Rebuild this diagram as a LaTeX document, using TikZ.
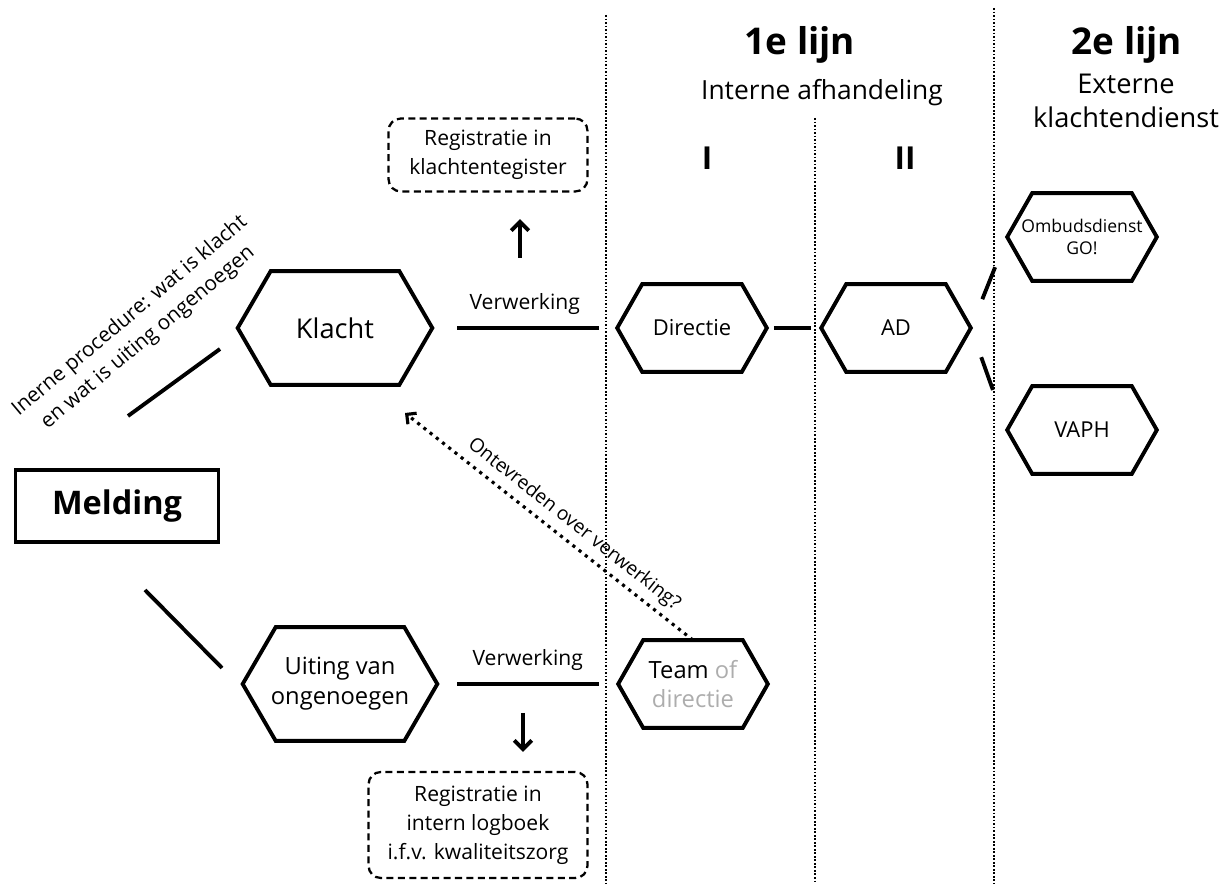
\documentclass[tikz,border=0pt]{standalone}
\usepackage{fontspec}
\setmainfont{Open Sans}
\usetikzlibrary{arrows.meta}
\definecolor{grijs}{gray}{0.68}
\tikzset{
  zesgroot/.style={minimum width=3.88cm, minimum height=2.26cm, inner sep=0pt, align=center},
  zesklein/.style={minimum width=2.98cm, minimum height=1.74cm, inner sep=0pt, align=center, font=\fontsize{12.5}{15}\selectfont},
  rand/.style={line width=2.2pt},
  kader/.style={draw, line width=1.3pt, dash pattern=on 4pt off 2.5pt, rounded corners=7pt, align=center, font=\fontsize{12}{16.5}\selectfont},
  scheiding/.style={line width=1pt, dash pattern=on 1pt off 1pt},
  pijl/.style={line width=2.2pt, -{Straight Barb[length=5pt,width=10pt]}},
  terugpijl/.style={line width=1.8pt, dash pattern=on 1.8pt off 2.7pt, -{Straight Barb[length=4pt,width=8pt]}},
}
\newcommand{\zeshoek}[2]{%
  \draw[rand] (#1.west) -- ([xshift=#2]#1.north west) -- ([xshift=-#2]#1.north east)
    -- (#1.east) -- ([xshift=-#2]#1.south east) -- ([xshift=#2]#1.south west) -- cycle;}
\begin{document}
\begin{tikzpicture}[x=0.02cm, y=-0.02cm]
\useasboundingbox (0,0) rectangle (1221,884);
% scheidingslijnen
\draw[scheiding] (606,15) -- (606,884);
\draw[scheiding] (815,118) -- (815,884);
\draw[scheiding] (994,8) -- (994,884);
% titels
\node[font=\bfseries\fontsize{21}{25}\selectfont] (lijn1) at (800,45) {1e lijn};
\node[font=\fontsize{15}{18}\selectfont] (intern) at (822,93) {Interne afhandeling};
\node[font=\bfseries\fontsize{18}{22}\selectfont] (fase1) at (707,158) {I};
\node[font=\bfseries\fontsize{18}{22}\selectfont] (fase2) at (905,158) {II};
\node[font=\bfseries\fontsize{21}{25}\selectfont] (lijn2) at (1127,45) {2e lijn};
\node[font=\fontsize{15.5}{19}\selectfont, align=center] (extern) at (1126,101) {Externe\\klachtendienst};
% knopen
\node[draw, line width=2.2pt, minimum width=4.06cm, minimum height=1.44cm, font=\bfseries\fontsize{18.5}{22}\selectfont] (melding) at (117,506) {Melding};
\node[zesgroot, font=\fontsize{15.5}{18}\selectfont] (klacht) at (335,328) {Klacht};
\node[zesgroot, font=\fontsize{13.5}{17}\selectfont] (uiting) at (340,684) {Uiting van\\ongenoegen};
\node[zesklein] (directie) at (692,328) {Directie};
\node[zesklein] (ad) at (896,328) {AD};
\node[zesklein, font=\fontsize{10}{13}\selectfont] (ombuds) at (1082,237) {Ombudsdienst\\GO!};
\node[zesklein] (vaph) at (1082,430) {VAPH};
\node[zesklein, font=\fontsize{13.5}{17}\selectfont] (team) at (693,684) {Team \textcolor{grijs}{of}\\\textcolor{grijs}{directie}};
\zeshoek{klacht}{0.66cm}
\zeshoek{uiting}{0.66cm}
\zeshoek{directie}{0.5cm}
\zeshoek{ad}{0.5cm}
\zeshoek{ombuds}{0.5cm}
\zeshoek{vaph}{0.5cm}
\zeshoek{team}{0.5cm}
\node[kader, minimum width=3.98cm, minimum height=1.46cm] (regklacht) at (488,155) {Registratie in\\klachtentegister};
\node[kader, minimum width=4.38cm, minimum height=2.12cm] (reglog) at (478,825) {Registratie in\\intern logboek\\i.f.v. kwaliteitszorg};
\node[rotate=40, align=center, font=\fontsize{11.8}{16}\selectfont] (procedure) at (139,327) {Inerne procedure: wat is klacht\\en wat is uiting ongenoegen};
% verbindingen
\coordinate (mk1) at (128,416);
\coordinate (mk2) at (220,349);
\coordinate (mu1) at (145,590);
\coordinate (mu2) at (222,668);
\draw[rand] (mk1) -- (mk2);
\draw[rand] (mu1) -- (mu2);
\draw[rand, shorten <=0.5cm, shorten >=0.36cm] (klacht.east) -- (directie.west)
  node[midway, above=3pt, font=\fontsize{12}{14}\selectfont] {Verwerking};
\draw[rand, shorten <=0.4cm, shorten >=0.38cm] (uiting.east) -- (team.west)
  node[midway, above=3pt, font=\fontsize{12}{14}\selectfont] {Verwerking};
\draw[rand, shorten <=0.14cm, shorten >=0.2cm] (directie.east) -- (ad.west);
\draw[rand, shorten <=0.62cm, shorten >=0.65cm] (ad.east) -- (ombuds.west);
\draw[rand, shorten <=0.62cm, shorten >=0.85cm] (ad.east) -- (vaph.west);
\coordinate (pu) at (520,258);
\draw[pijl, shorten >=0.53cm] (pu) -- (pu |- regklacht.south);
\coordinate (pd) at (523,713);
\draw[pijl, shorten >=0.38cm] (pd) -- (pd |- reglog.north);
\coordinate (terug) at (405,413);
\draw[terugpijl] (team.north) -- (terug)
  node[pos=0.45, sloped, above, font=\fontsize{11}{13}\selectfont] {Ontevreden over verwerking?};
\end{tikzpicture}
\end{document}
